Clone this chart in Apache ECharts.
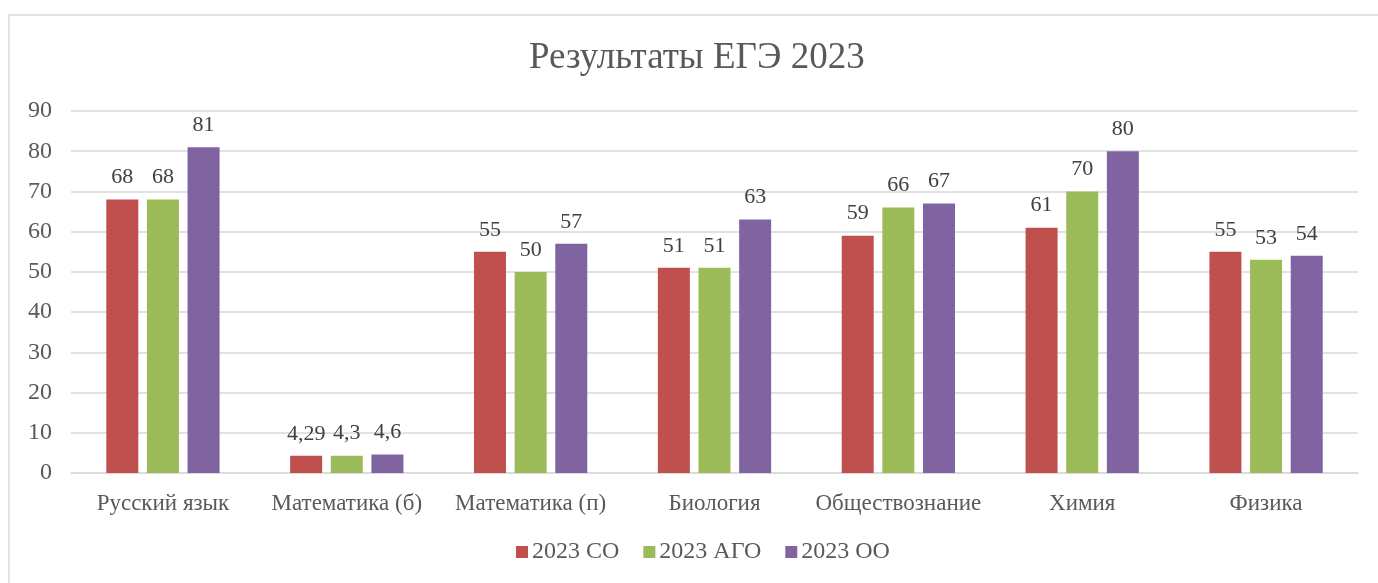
<!DOCTYPE html>
<html>
<head>
<meta charset="utf-8">
<script src="https://cdn.jsdelivr.net/npm/echarts@6/dist/echarts.min.js"></script>
<style>
  html, body { margin: 0; padding: 0; background: #fff; }
  #chart { width: 1378px; height: 583px; }
</style>
</head>
<body>
<div id="chart"></div>
<script>
// данные
const categories = ['Русский язык', 'Математика (б)', 'Математика (п)', 'Биология', 'Обществознание', 'Химия', 'Физика'];
const seriesNames = ['2023 СО', '2023 АГО', '2023 ОО'];
const valuesSO = [68, 4.29, 55, 51, 59, 61, 55];
const valuesAGO = [68, 4.3, 50, 51, 66, 70, 53];
const valuesOO = [81, 4.6, 57, 63, 67, 80, 54];
const colors = ['#C0504D', '#9BBB59', '#8064A2'];

const font = '"Liberation Serif", "Times New Roman", serif';

function makeSeries(name, data, color) {
  return {
    name: name,
    type: 'bar',
    data: data,
    barWidth: 32,
    barGap: '27%',
    itemStyle: { color: color },
    label: {
      show: true,
      position: 'top',
      distance: 11,
      fontFamily: font,
      fontSize: 22,
      color: '#404040',
      formatter: function (p) {
        return String(p.value).replace('.', ',');
      }
    }
  };
}

let chart = echarts.init(document.getElementById('chart'));
chart.setOption({
  backgroundColor: '#fff',
  animation: false,
  color: colors,
  title: {
    text: 'Результаты ЕГЭ 2023',
    left: 524,
    top: 35,
    textStyle: { fontFamily: font, fontSize: 37, fontWeight: 'normal', color: '#595959' }
  },
  legend: {
    bottom: 14,
    left: 511,
    itemWidth: 12,
    itemHeight: 12,
    itemGap: 24,
    icon: 'rect',
    textStyle: { fontFamily: font, fontSize: 24, color: '#595959', padding: [0, 0, 0, -1] },
    data: seriesNames
  },
  grid: { left: 71, right: 20, top: 111, bottom: 110, containLabel: false },
  xAxis: {
    type: 'category',
    data: categories,
    axisLine: { lineStyle: { color: '#d9d9d9', width: 1.5 } },
    axisTick: { show: false },
    axisLabel: { fontFamily: font, fontSize: 23, color: '#595959', margin: 19, interval: 0 }
  },
  yAxis: {
    type: 'value',
    min: 0,
    max: 90,
    interval: 10,
    axisLine: { show: false },
    axisTick: { show: false },
    axisLabel: { fontFamily: font, fontSize: 24, color: '#595959', margin: 19 },
    splitLine: { lineStyle: { color: '#d9d9d9', width: 1.5 } }
  },
  graphic: [{
    type: 'rect',
    shape: { x: 9, y: 15, width: 1500, height: 800 },
    style: { fill: 'none', stroke: '#d9d9d9', lineWidth: 1.5 },
    silent: true
  }],
  series: [
    makeSeries(seriesNames[0], valuesSO, colors[0]),
    makeSeries(seriesNames[1], valuesAGO, colors[1]),
    makeSeries(seriesNames[2], valuesOO, colors[2])
  ]
});
</script>
</body>
</html>
